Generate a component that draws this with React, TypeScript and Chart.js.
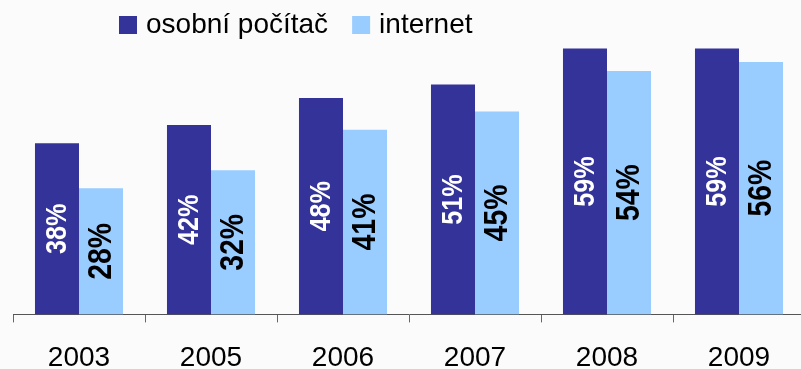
import React, { useEffect, useRef } from "react";
import { Chart, registerables } from "chart.js";

Chart.register(...registerables);

const years = ["2003", "2005", "2006", "2007", "2008", "2009"];
const pcShare = [38, 42, 48, 51, 59, 59];
const internetShare = [28, 32, 41, 45, 54, 56];
const seriesNames = ["osobní počítač", "internet"];
const seriesColors = ["#333399", "#99ccff"];
const labelColors = ["#ffffff", "#000000"];

const FONT = "'Liberation Sans', Arial, sans-serif";

// Legend drawn at the top-left of the chart, square swatch + text
const topLegend = {
  id: "topLegend",
  afterDraw(chart: any) {
    const ctx = chart.ctx;
    ctx.save();
    ctx.font = `28px ${FONT}`;
    ctx.textBaseline = "alphabetic";
    ctx.textAlign = "left";
    let x = 119;
    chart.data.datasets.forEach((ds: any) => {
      ctx.fillStyle = ds.backgroundColor;
      ctx.fillRect(x, 16, 18, 18);
      ctx.fillStyle = "#000";
      ctx.fillText(ds.label, x + 27, 33);
      x += 27 + ctx.measureText(ds.label).width + 24;
    });
    ctx.restore();
  },
};

// Vertical value labels centred inside every bar
const barValueLabels = {
  id: "barValueLabels",
  afterDatasetsDraw(chart: any) {
    const ctx = chart.ctx;
    chart.data.datasets.forEach((ds: any, di: number) => {
      const meta = chart.getDatasetMeta(di);
      const size = di === 0 ? 30 : 33;
      const squeeze = di === 0 ? 0.84 : 0.86;
      meta.data.forEach((bar: any, i: number) => {
        const { x, y, base } = bar.getProps(["x", "y", "base"], true);
        const cy = (y + base) / 2;
        ctx.save();
        ctx.translate(x, cy);
        ctx.rotate(-Math.PI / 2);
        ctx.scale(squeeze, 1);
        ctx.font = `bold ${size}px ${FONT}`;
        ctx.fillStyle = labelColors[di];
        ctx.textAlign = "center";
        ctx.textBaseline = "middle";
        ctx.fillText(`${ds.data[i]}%`, 0, 1);
        ctx.restore();
      });
    });
  },
};

export default function App() {
  const canvasRef = useRef<HTMLCanvasElement | null>(null);

  useEffect(() => {
    if (!canvasRef.current) return;
    const chart = new Chart(canvasRef.current, {
      type: "bar",
      data: {
        labels: years,
        datasets: [
          {
            label: seriesNames[0],
            data: pcShare,
            backgroundColor: seriesColors[0],
            categoryPercentage: 0.667,
            barPercentage: 1,
          },
          {
            label: seriesNames[1],
            data: internetShare,
            backgroundColor: seriesColors[1],
            categoryPercentage: 0.667,
            barPercentage: 1,
          },
        ],
      },
      options: {
        responsive: false,
        animation: false,
        devicePixelRatio: 1,
        layout: { padding: { left: 13, right: 15, top: 44, bottom: 0 } },
        plugins: {
          legend: { display: false },
          tooltip: { enabled: false },
        },
        scales: {
          x: {
            grid: {
              offset: true,
              drawOnChartArea: false,
              tickLength: 8,
              color: "#666666",
              lineWidth: 1,
            },
            border: { color: "#555555", width: 1 },
            ticks: {
              color: "#000000",
              font: { family: FONT, size: 28 },
              padding: 19,
            },
          },
          y: { display: false, min: 0, max: 60 },
        },
      },
      plugins: [topLegend, barValueLabels],
    });
    return () => chart.destroy();
  }, []);

  return (
    <div
      style={{
        position: "fixed",
        left: 0,
        top: 0,
        width: 801,
        height: 369,
        overflow: "hidden",
        background: "#fbfbfb",
      }}
    >
      <canvas ref={canvasRef} width={820} height={394} style={{ display: "block" }} />
    </div>
  );
}
